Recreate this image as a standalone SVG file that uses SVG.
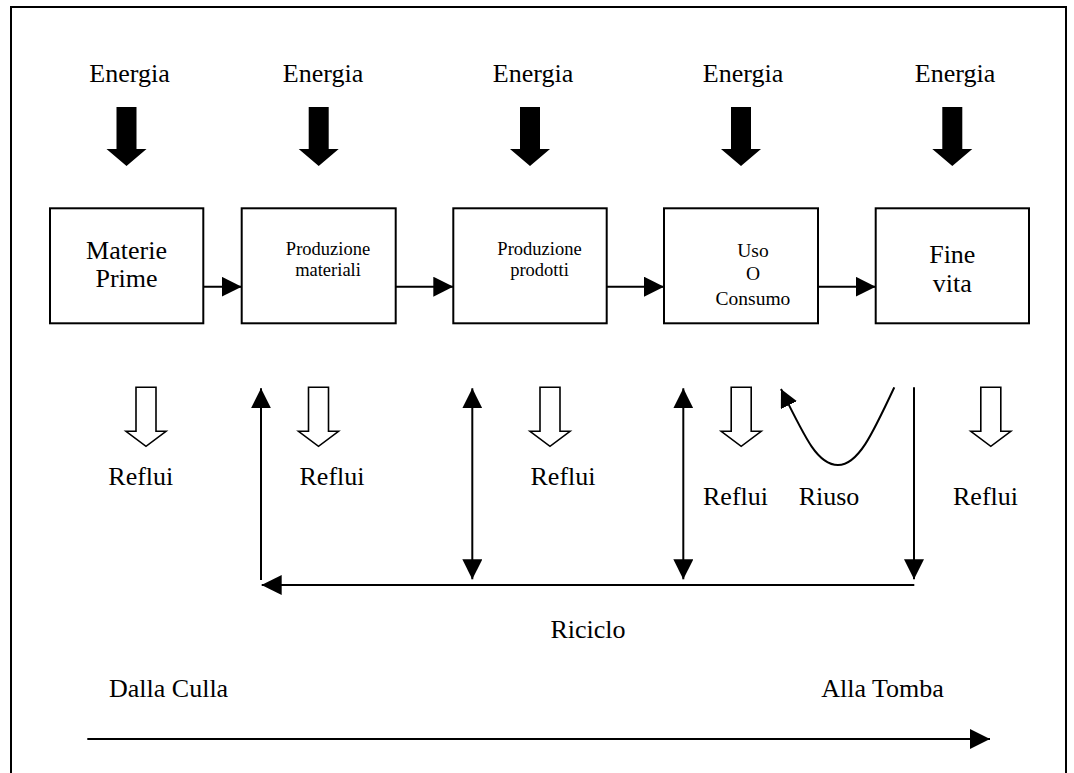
<svg xmlns="http://www.w3.org/2000/svg" width="1074" height="773" viewBox="0 0 1074 773">
<style>
text{font-family:"Liberation Serif","Times New Roman",serif;fill:#000;text-anchor:middle}
.t26{font-size:26px}
.t18{font-size:18.5px}
.t19{font-size:19.5px}
.box{fill:#fff;stroke:#000;stroke-width:2}
.ln{fill:none;stroke:#000;stroke-width:2}
.blk{fill:#000}
.hol{fill:#fff;stroke:#000;stroke-width:1.6;stroke-linejoin:miter}
</style>
<defs>
<marker id="ah" markerUnits="userSpaceOnUse" markerWidth="20" markerHeight="20" viewBox="0 0 20 20" refX="20" refY="10" orient="auto-start-reverse">
<path d="M0,0 L20,10 L0,20 z" fill="#000"/>
</marker>
<marker id="ahs" markerUnits="userSpaceOnUse" markerWidth="18" markerHeight="18" viewBox="0 0 18 18" refX="18" refY="9" orient="auto">
<path d="M0,0 L18,9 L0,18 z" fill="#000"/>
</marker>
<path id="blkarrow" d="M-10,0 h20 v42 h10 l-20,17 l-20,-17 h10 z"/>
<path id="holarrow" d="M-10,0 h20 v44 h10 l-20,15 l-20,-15 h10 z"/>
</defs>
<rect x="0" y="0" width="1074" height="773" fill="#fff"/>
<rect x="11" y="7" width="1055" height="780" fill="none" stroke="#000" stroke-width="2"/>

<g id="energia">
<text class="t26" x="129.5" y="82">Energia</text>
<text class="t26" x="323" y="82">Energia</text>
<text class="t26" x="533" y="82">Energia</text>
<text class="t26" x="743" y="82">Energia</text>
<text class="t26" x="955" y="82">Energia</text>
<use href="#blkarrow" class="blk" x="126.5" y="107"/>
<use href="#blkarrow" class="blk" x="318.7" y="107"/>
<use href="#blkarrow" class="blk" x="530" y="107"/>
<use href="#blkarrow" class="blk" x="741" y="107"/>
<use href="#blkarrow" class="blk" x="952.3" y="107"/>
</g>

<g id="node-materie">
<rect class="box" x="50" y="208.3" width="153.3" height="115"/>
<text class="t26" x="126.5" y="259">Materie</text>
<text class="t26" x="126.5" y="287">Prime</text>
</g>
<g id="node-prod-materiali">
<rect class="box" x="241.7" y="208.3" width="154" height="115"/>
<text class="t18" x="328" y="255">Produzione</text>
<text class="t18" x="328" y="276">materiali</text>
</g>
<g id="node-prod-prodotti">
<rect class="box" x="453.3" y="208.3" width="153.4" height="115"/>
<text class="t18" x="539.5" y="255">Produzione</text>
<text class="t18" x="539.5" y="276">prodotti</text>
</g>
<g id="node-uso">
<rect class="box" x="664" y="208.3" width="154" height="115"/>
<text class="t19" x="753" y="257">Uso</text>
<text class="t19" x="753" y="280">O</text>
<text class="t19" x="753" y="305">Consumo</text>
</g>
<g id="node-fine">
<rect class="box" x="875.7" y="208.3" width="153.3" height="115"/>
<text class="t26" x="952.3" y="263">Fine</text>
<text class="t26" x="952.3" y="292">vita</text>
</g>

<g id="reflui">
<use href="#holarrow" class="hol" x="146" y="387.3"/>
<use href="#holarrow" class="hol" x="318.5" y="387.3"/>
<use href="#holarrow" class="hol" x="550" y="387.3"/>
<use href="#holarrow" class="hol" x="741.2" y="387.3"/>
<use href="#holarrow" class="hol" x="990.8" y="387.3"/>
<text class="t26" x="140.8" y="485">Reflui</text>
<text class="t26" x="332" y="485">Reflui</text>
<text class="t26" x="563" y="485">Reflui</text>
<text class="t26" x="735.5" y="505">Reflui</text>
<text class="t26" x="829" y="505">Riuso</text>
<text class="t26" x="985.5" y="505">Reflui</text>
</g>

<g id="connectors">
<line class="ln" x1="203.3" y1="286.7" x2="241.7" y2="286.7" marker-end="url(#ah)"/>
<line class="ln" x1="395.7" y1="286.7" x2="453.3" y2="286.7" marker-end="url(#ah)"/>
<line class="ln" x1="606.7" y1="286.7" x2="664" y2="286.7" marker-end="url(#ah)"/>
<line class="ln" x1="818" y1="286.7" x2="875.7" y2="286.7" marker-end="url(#ah)"/>
<line class="ln" x1="261" y1="580" x2="261" y2="388.3" marker-end="url(#ah)"/>
<line class="ln" x1="914.3" y1="585" x2="261.7" y2="585" marker-end="url(#ah)"/>
<line class="ln" x1="472.3" y1="388.3" x2="472.3" y2="579.3" marker-start="url(#ah)" marker-end="url(#ah)"/>
<line class="ln" x1="683.3" y1="388.3" x2="683.3" y2="579.3" marker-start="url(#ah)" marker-end="url(#ah)"/>
<line class="ln" x1="914" y1="387.3" x2="914" y2="579.3" marker-end="url(#ah)"/>
<path class="ln" d="M894.3,387.3 C872,435 858,465 838,465 C818,465 806,440 781,389" stroke-width="2.2" marker-end="url(#ahs)"/>
<line class="ln" x1="87.3" y1="739" x2="990" y2="739" marker-end="url(#ah)"/>
</g>

<g id="labels">
<text class="t26" x="588" y="638.3">Riciclo</text>
<text class="t26" x="168.6" y="696.7">Dalla Culla</text>
<text class="t26" x="882.5" y="696.7">Alla Tomba</text>
</g>
</svg>
